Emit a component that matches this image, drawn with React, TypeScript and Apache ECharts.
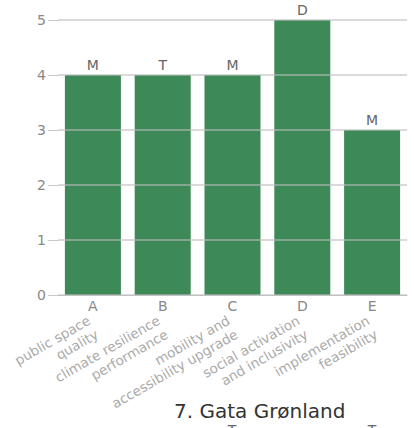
import React, { useEffect, useRef } from "react";
import * as echarts from "echarts";

const categories = ["A", "B", "C", "D", "E"];
const criteria = [
  "public space\nquality",
  "climate resilience\nperformance",
  "mobility and\naccessibility upgrade",
  "social activation\nand inclusivity",
  "implementation\nfeasibility",
];
const scores = [4, 4, 4, 5, 3];
const scoreLetters = ["M", "T", "M", "D", "M"];
const yTicks = [0, 1, 2, 3, 4, 5];
const title = "7. Gata Grønland";
const nextChartLetters = ["T", "T"];

const FONT = "'DejaVu Sans', sans-serif";

export default function App() {
  const ref = useRef<HTMLDivElement>(null);
  useEffect(() => {
    document.body.style.margin = "0";
    const chart = echarts.init(ref.current!, undefined, { renderer: "svg" });
    chart.setOption({
      animation: false,
      textStyle: { fontFamily: FONT },
      title: {
        text: title,
        left: 169,
        top: 396,
        textStyle: { fontFamily: FONT, fontSize: 20, fontWeight: "normal", color: "#333" },
      },
      grid: { left: 58, right: 7, top: 20, bottom: 133, containLabel: false },
      xAxis: [
        {
          type: "category",
          data: categories,
          position: "bottom",
          axisLine: { lineStyle: { color: "#c8c8c8", width: 1 } },
          axisTick: { show: false },
          axisLabel: { color: "#888", fontSize: 14, margin: 4, fontFamily: FONT },
        },
        {
          type: "category",
          data: criteria,
          position: "bottom",
          axisLine: { show: false },
          axisTick: { show: false },
          axisLabel: {
            color: "#aaa",
            fontSize: 13.5,
            lineHeight: 16,
            rotate: 30,
            margin: 31,
            interval: 0,
            fontFamily: FONT,
          },
        },
      ],
      yAxis: {
        type: "value",
        min: yTicks[0],
        max: yTicks[yTicks.length - 1],
        interval: 1,
        z: 3,
        axisLine: { show: false },
        axisTick: { show: true, length: 10, lineStyle: { color: "#c8c8c8" } },
        axisLabel: { color: "#888", fontSize: 14, margin: 12, fontFamily: FONT },
        splitLine: { lineStyle: { color: "rgba(190,190,190,0.75)", width: 1.5 } },
      },
      series: [
        {
          type: "bar",
          xAxisIndex: 0,
          data: scores,
          barWidth: 56,
          itemStyle: { color: "#3d8957" },
          label: {
            show: true,
            position: "top",
            distance: 3,
            color: "#666",
            fontSize: 14,
            fontFamily: FONT,
            formatter: (p: any) => scoreLetters[p.dataIndex],
          },
        },
      ],
      graphic: [
        { type: "text", x: 232, y: 423, style: { text: nextChartLetters[0], fill: "#666", font: `14px ${FONT}`, textAlign: "center" } },
        { type: "text", x: 372, y: 423, style: { text: nextChartLetters[1], fill: "#666", font: `14px ${FONT}`, textAlign: "center" } },
      ],
    });
    return () => chart.dispose();
  }, []);
  return <div ref={ref} style={{ width: 414, height: 428 }} />;
}
